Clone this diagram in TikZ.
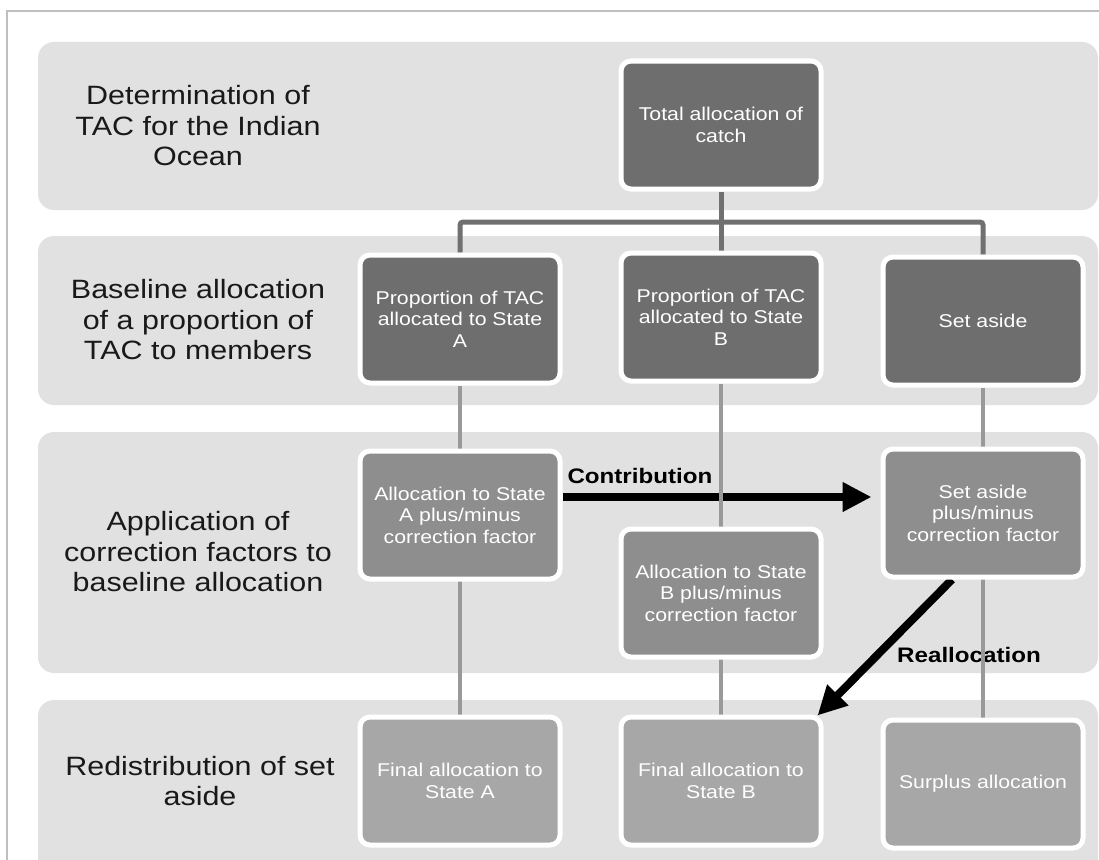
\documentclass[tikz,border=0pt]{standalone}
\usepackage{fontspec}
\setmainfont{Liberation Sans}
\newfontfamily\widesans[FakeStretch=1.15]{Liberation Sans}
\usetikzlibrary{arrows.meta}

\definecolor{bandgray}{HTML}{E1E1E1}
\definecolor{darkbox}{HTML}{6E6E6E}
\definecolor{midbox}{HTML}{8E8E8E}
\definecolor{lightbox}{HTML}{A7A7A7}
\definecolor{treegray}{HTML}{707070}
\definecolor{stemgray}{HTML}{999999}
\definecolor{framegray}{HTML}{BFBFBF}

\pgfdeclarelayer{bands}
\pgfdeclarelayer{links}
\pgfsetlayers{bands,links,main}

\begin{document}
\begin{tikzpicture}[
			x=1pt, y=-1pt,
			band/.style={fill=bandgray, rounded corners=16pt},
			stage/.style={align=center, text=black!90, font=\widesans\fontsize{26.5}{30.5}\selectfont},
			box/.style={rectangle, draw=white, line width=5pt, rounded corners=10pt, minimum width=200pt, minimum height=128pt, align=center, text=white, font=\widesans\fontsize{18.5}{21.5}\selectfont},
			tag/.style={font=\widesans\bfseries\fontsize{21}{24}\selectfont, text=black, inner sep=1pt},
			treeline/.style={treegray, line width=5pt, rounded corners=3pt},
			stem/.style={stemgray, line width=4pt},
			bigarrow/.style={line width=8pt, -{Triangle[length=29pt,width=28pt]}}
		]
		\useasboundingbox (0,0) rectangle (1099,859);

		% Cornice
		\draw[framegray, line width=1.5pt] (7,880) -- (7,11) -- (1110,11);

		% Fasce delle fasi
		\begin{pgfonlayer}{bands}
			\fill[band] (38,42) rectangle (1098,210);
			\fill[band] (38,236) rectangle (1098,405);
			\fill[band] (38,432) rectangle (1098,673);
			\fill[band] (38,700) rectangle (1098,890);
		\end{pgfonlayer}

		\node[stage] (stage_tac) at (198,126) {Determination of\\TAC for the Indian\\Ocean};
		\node[stage] (stage_base) at (198,320) {Baseline allocation\\of a proportion of\\TAC to members};
		\node[stage] (stage_corr) at (198,552) {Application of\\correction factors to\\baseline allocation};
		\node[stage] (stage_redist) at (200,781) {Redistribution of set\\aside};

		% Livello 1
		\node[box, fill=darkbox] (total) at (721,125) {Total allocation of\\catch};

		% Livello 2
		\node[box, fill=darkbox] (prop_a) at (460,319) {Proportion of TAC\\allocated to State\\A};
		\node[box, fill=darkbox] (prop_b) at (721,317) {Proportion of TAC\\allocated to State\\B};
		\node[box, fill=darkbox] (set_aside) at (983,321) {Set aside};

		% Livello 3
		\node[box, fill=midbox] (corr_a) at (460,515) {Allocation to State\\A plus/minus\\correction factor};
		\node[box, fill=midbox] (corr_b) at (721,593) {Allocation to State\\B plus/minus\\correction factor};
		\node[box, fill=midbox] (corr_s) at (983,513) {Set aside\\plus/minus\\correction factor};

		% Livello 4
		\node[box, fill=lightbox] (final_a) at (460,781) {Final allocation to\\State A};
		\node[box, fill=lightbox] (final_b) at (721,781) {Final allocation to\\State B};
		\node[box, fill=lightbox] (surplus) at (983,784) {Surplus allocation};

		% Collegamenti
		\coordinate (split) at (721,222);
		\coordinate (contrib_start) at ([yshift=18pt]corr_a.east);
		\begin{pgfonlayer}{links}
			\draw[bigarrow, shorten >=9pt] (contrib_start) -- (contrib_start -| corr_s.west) node[pos=0, tag, anchor=south west, yshift=8pt] (contrib_lbl) {Contribution};
			\draw[bigarrow] ([xshift=-31pt]corr_s.south) -- ([xshift=-6pt,yshift=-1pt]final_b.north east);
			\node[tag] (realloc_lbl) at (969,655) {Reallocation};

			\draw[treeline] (total.south) -- (split);
			\draw[treeline] (split) -| (prop_a.north);
			\draw[treeline] (split) -| (set_aside.north);
			\draw[treeline] (split) -- (prop_b.north);

			\draw[stem] (prop_a.south) -- (final_a.north);
			\draw[stem] (prop_b.south) -- (final_b.north);
			\draw[stem] (set_aside.south) -- (surplus.north);
		\end{pgfonlayer}

	\end{tikzpicture}
\end{document}
